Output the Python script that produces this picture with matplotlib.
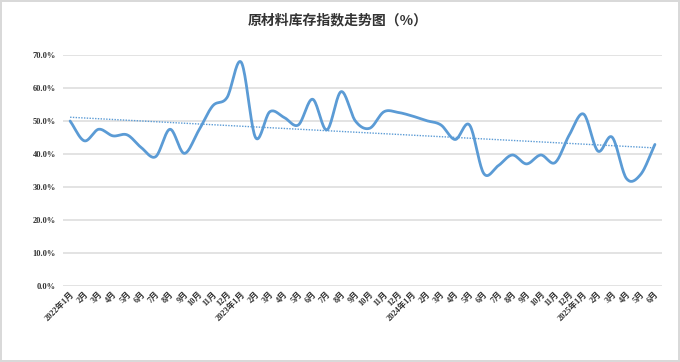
import numpy as np
import matplotlib
matplotlib.use('Agg')
import matplotlib.pyplot as plt

plt.rcParams['font.family'] = ['Liberation Serif', 'Noto Sans CJK SC', 'DejaVu Sans']

# 数据：原材料库存指数（%），2022年1月 — 2025年6月
months = ['2022年1月', '2月', '3月', '4月', '5月', '6月', '7月', '8月', '9月', '10月', '11月', '12月',
          '2023年1月', '2月', '3月', '4月', '5月', '6月', '7月', '8月', '9月', '10月', '11月', '12月',
          '2024年1月', '2月', '3月', '4月', '5月', '6月', '7月', '8月', '9月', '10月', '11月', '12月',
          '2025年1月', '2月', '3月', '4月', '5月', '6月']
values = [50.0, 44.0, 47.5, 45.5, 45.8, 41.9, 39.2, 47.5, 40.2, 47.0, 54.6, 57.1,
          67.8, 45.0, 52.8, 51.1, 48.8, 56.6, 47.3, 58.9, 50.0, 47.8, 52.8, 52.6,
          51.5, 50.1, 48.8, 44.4, 48.8, 34.1, 36.4, 39.7, 37.0, 39.7, 37.4, 45.8,
          52.1, 40.9, 45.1, 32.6, 33.8, 42.9]


def smooth(x, y, n=20):
    # Catmull-Rom 样条，近似 Excel 的平滑线
    x = np.asarray(x, float)
    y = np.asarray(y, float)
    px = np.concatenate([[2 * x[0] - x[1]], x, [2 * x[-1] - x[-2]]])
    py = np.concatenate([[2 * y[0] - y[1]], y, [2 * y[-1] - y[-2]]])
    xs, ys = [], []
    t = np.linspace(0, 1, n, endpoint=False)
    for i in range(1, len(px) - 2):
        for p, out in ((px, xs), (py, ys)):
            p0, p1, p2, p3 = p[i - 1], p[i], p[i + 1], p[i + 2]
            c1 = p1 + (p2 - p0) / 6
            c2 = p2 - (p3 - p1) / 6
            out.append((1 - t) ** 3 * p1 + 3 * (1 - t) ** 2 * t * c1 + 3 * (1 - t) * t ** 2 * c2 + t ** 3 * p2)
    xs.append([x[-1]])
    ys.append([y[-1]])
    return np.concatenate(xs), np.concatenate(ys)


fig = plt.figure(figsize=(6.8, 3.62), dpi=100)
fig.patch.set_edgecolor('#d9d9d9')
fig.patch.set_linewidth(1.5)
ax = fig.add_axes([0.0926, 0.21, 0.881, 0.638])

x = np.arange(len(values))
sx, sy = smooth(x, values)
ax.plot(sx, sy, color='#5b9bd5', linewidth=2.0, solid_capstyle='round', zorder=3)

# 线性趋势线
k, b = np.polyfit(x, values, 1)
ax.plot(x, k * x + b, color='#5b9bd5', linewidth=1.0, linestyle=(0, (1, 1)), zorder=2)

ax.set_xlim(-0.5, len(values) - 0.5)
ax.set_ylim(0, 70)
ax.set_yticks(np.arange(0, 71, 10))
ax.set_yticklabels(['%.1f%%' % v for v in range(0, 71, 10)], fontsize=6, fontweight='bold', color='#333333')
ax.set_xticks(x)
ax.set_xticklabels(months, rotation=45, ha='right', va='top', rotation_mode='anchor',
                   fontsize=6, fontweight='bold', color='#333333')
ax.tick_params(axis='both', length=0, pad=5)
ax.tick_params(axis='x', pad=3)
ax.grid(axis='y', color='#e0e0e0', linewidth=1.3)
ax.set_axisbelow(True)
for s in ax.spines.values():
    s.set_visible(False)

fig.text(0.497, 0.945, '原材料库存指数走势图（%）', ha='center', va='center', fontsize=10,
         fontweight='bold', color='#333333', family=['Noto Sans CJK SC', 'DejaVu Sans'])

fig.savefig('out.png', dpi=100)
